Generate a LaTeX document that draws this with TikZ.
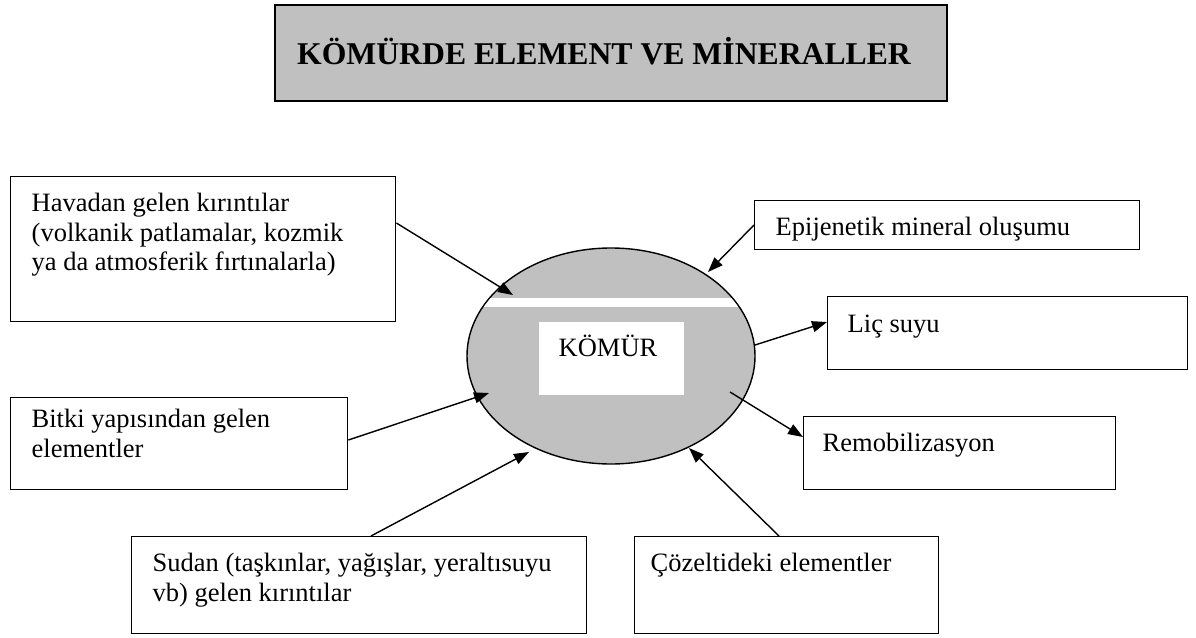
\documentclass[tikz,border=0pt]{standalone}
\usepackage{fontspec}
\setmainfont{Liberation Serif}
\usetikzlibrary{arrows.meta,shapes.geometric}
\definecolor{kgray}{HTML}{C0C0C0}
\newcommand{\boxtext}[4]{\parbox[c][#1][t]{#2}{\raggedright\rule{0pt}{#3}#4}}
\tikzset{
  tbox/.style={draw, line width=1.4pt, fill=white, anchor=north west, inner ysep=0pt, font=\fontsize{26.5}{29.5}\selectfont},
  titlebox/.style={draw, line width=2.2pt, fill=kgray, anchor=north west, inner ysep=0pt, inner xsep=22pt, font=\fontsize{31.7}{36}\selectfont\bfseries},
  arr/.style={line width=1.4pt, -{Triangle[length=15pt,width=11pt]}},
}
\begin{document}
\begin{tikzpicture}[x=1pt,y=1pt]
\useasboundingbox (0,0) rectangle (1196,-637);

% title
\node[titlebox] (title) at (274,-4) {\boxtext{96pt}{628pt}{59pt}{KÖMÜRDE ELEMENT VE MİNERALLER}};

% central ellipse
\node[ellipse, draw, line width=1.4pt, fill=kgray, minimum width=288pt, minimum height=216pt, inner sep=0pt] (kom) at (611,-356) {};
\begin{scope}
  \clip (611,-356) ellipse [x radius=143pt, y radius=107pt];
  \fill[white] (440,-298) rectangle (780,-307);
\end{scope}
\node[tbox, draw=none, inner xsep=20pt] (komT) at (538,-321) {\boxtext{73pt}{105pt}{35pt}{KÖMÜR}};

% boxes
\node[tbox, inner xsep=21pt] (hav) at (10,-176) {\boxtext{145pt}{343pt}{35pt}{Havadan gelen kırıntılar\\(volkanik patlamalar, kozmik\\ya da atmosferik fırtınalarla)}};
\node[tbox, inner xsep=21pt] (epi) at (754,-200) {\boxtext{49pt}{343pt}{35pt}{Epijenetik mineral oluşumu}};
\node[tbox, inner xsep=20pt] (lic) at (827,-296) {\boxtext{73pt}{320pt}{36pt}{Liç suyu}};
\node[tbox, inner xsep=19pt] (rem) at (803,-416) {\boxtext{73pt}{274pt}{35pt}{Remobilizasyon}};
\node[tbox, inner xsep=21pt] (bit) at (10,-397) {\boxtext{92pt}{295pt}{30pt}{Bitki yapısından gelen\\elementler}};
\node[tbox, inner xsep=21pt] (sud) at (131,-536) {\boxtext{97pt}{413pt}{35pt}{Sudan (taşkınlar, yağışlar, yeraltısuyu\\vb) gelen kırıntılar}};
\node[tbox, inner xsep=16pt] (coz) at (634,-536) {\boxtext{97pt}{272pt}{35pt}{Çözeltideki elementler}};

% arrow ends on the ellipse
\coordinate (tHav) at (513,-295);
\coordinate (tEpi) at (708,-272);
\coordinate (sLic) at (755,-345);
\coordinate (sRem) at (730,-392);
\coordinate (tBit) at (489,-393);
\coordinate (tSud) at (529,-452);
\coordinate (tCoz) at (689,-448);

\draw[arr] (hav.east |- 0,-223) -- (tHav);
\draw[arr] (epi.west |- 0,-225) -- (tEpi);
\draw[arr] (sLic) -- (lic.west |- 0,-322);
\draw[arr] (sRem) -- (rem.west |- 0,-437);
\draw[arr] (bit.east |- 0,-440) -- (tBit);
\draw[arr] (sud.north -| 371,0) -- (tSud);
\draw[arr] (coz.north -| 779,0) -- (tCoz);
\end{tikzpicture}
\end{document}
